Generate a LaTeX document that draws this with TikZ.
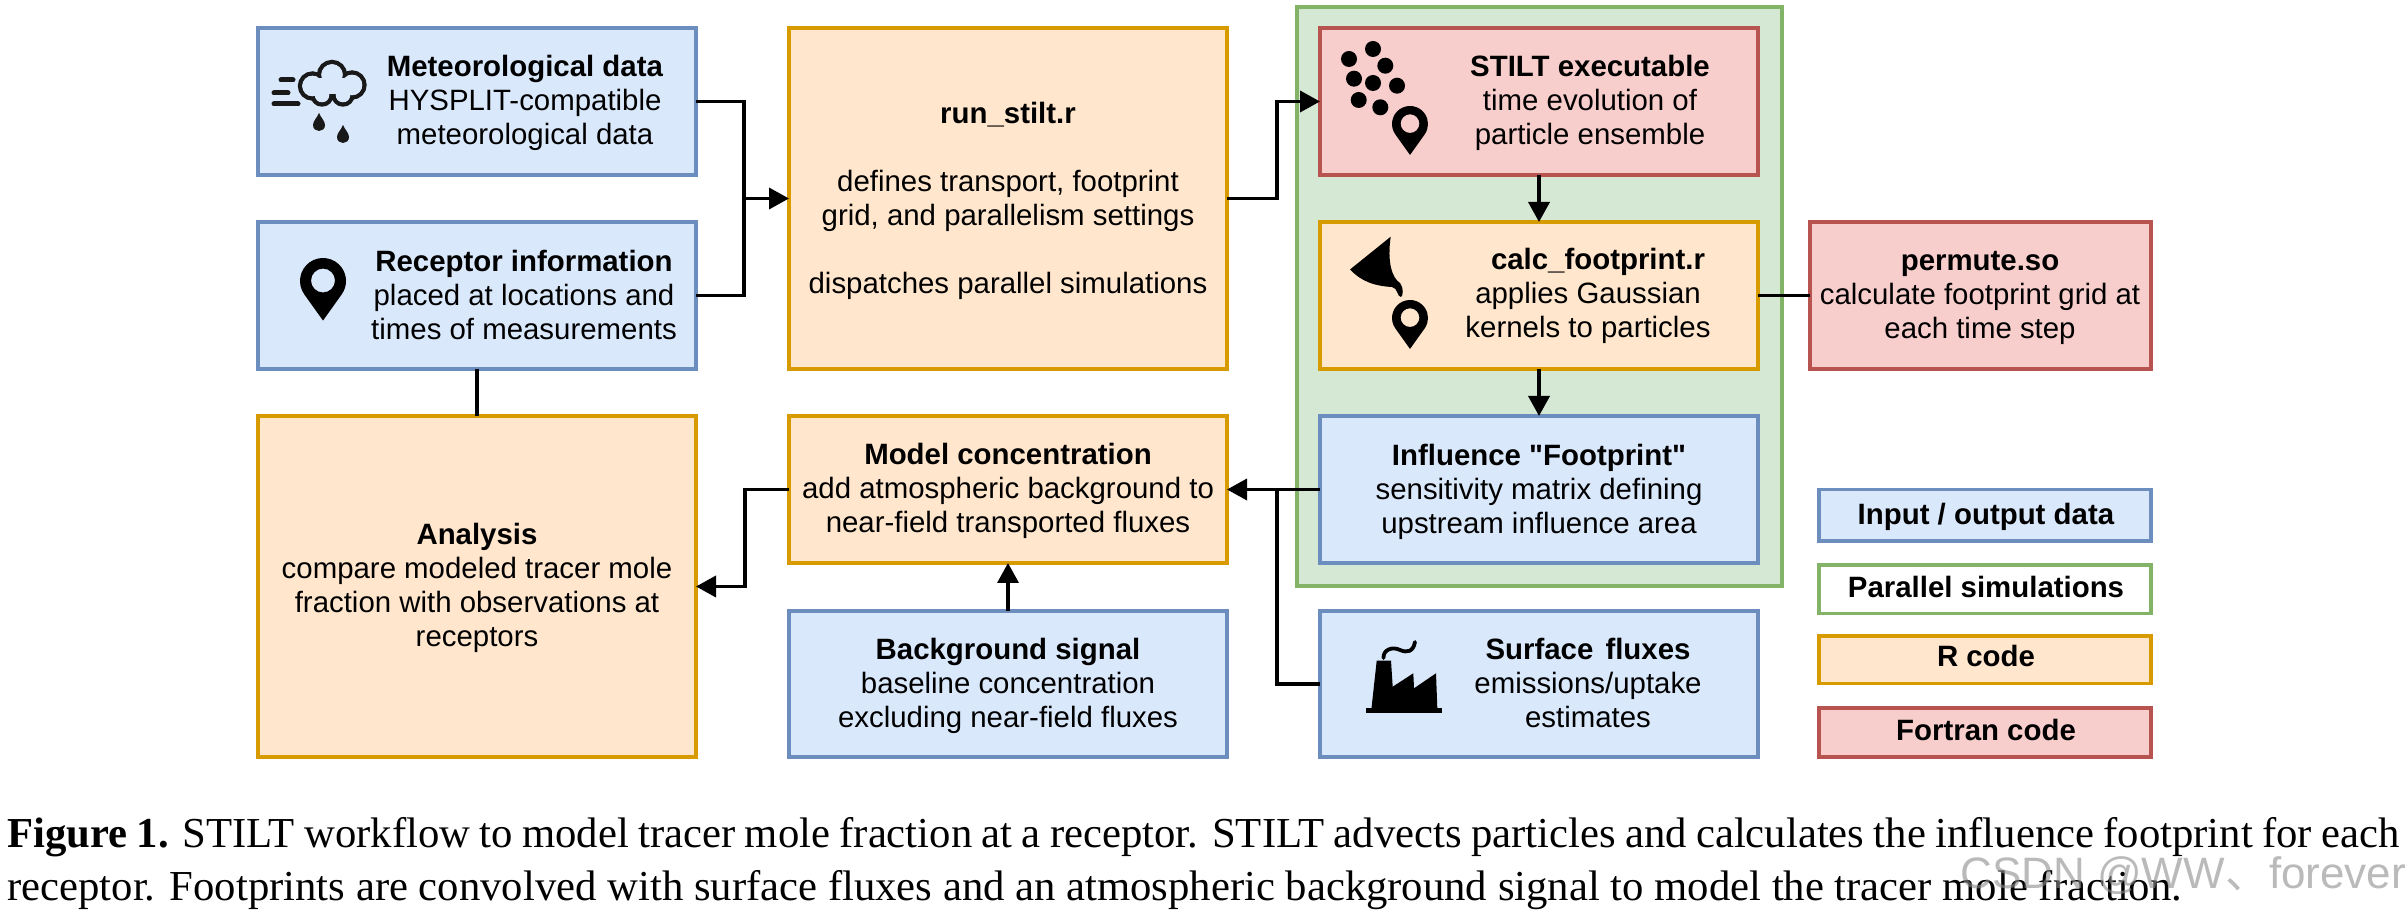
\documentclass[tikz,border=0pt]{standalone}
\usepackage{fontspec}
\setmainfont{Liberation Sans}[Ligatures=TeXOff]
\newfontfamily\capfont{Liberation Serif}
\newfontfamily\cjkfont{Noto Sans CJK SC}
\usetikzlibrary{arrows.meta}
\definecolor{bluef}{HTML}{DAE8FC}\definecolor{bluel}{HTML}{6C8EBF}
\definecolor{orf}{HTML}{FFE6CC}\definecolor{orl}{HTML}{D79B00}
\definecolor{grf}{HTML}{D5E8D4}\definecolor{grl}{HTML}{82B366}
\definecolor{redf}{HTML}{F8CECC}\definecolor{redl}{HTML}{B85450}
\tikzset{
  boxbase/.style={rectangle,draw,line width=1.75pt,inner sep=0pt,outer sep=0pt},
  bluebox/.style={boxbase,fill=bluef,draw=bluel},
  orbox/.style={boxbase,fill=orf,draw=orl},
  grbox/.style={boxbase,fill=grf,draw=grl},
  redbox/.style={boxbase,fill=redf,draw=redl},
  whitebox/.style={boxbase,fill=white,draw=grl},
  txt/.style={align=center,inner sep=0pt,font=\fontsize{14.7}{17}\selectfont},
  oneline/.style={txt,text height=10.5pt,text depth=3pt},
  conn/.style={line width=1.8pt,draw=black},
  arr/.style={conn,-{Triangle[length=10pt,width=10.5pt]}},
}
\newcommand\bxn[6]{\node[#2,minimum width={(#5-#3)*0.5pt},minimum height={(#6-#4)*0.5pt}] (#1) at ({(#3+#5)/2},{(#4+#6)/2}) {};}
\newcommand\pinicon[3]{\begin{scope}[shift={(#1,#2)},x=0.5pt,y=0.5pt,scale=#3]
  \fill[black,even odd rule] (0,-1.72) -- (215.6:1) arc[start angle=215.6,end angle=-35.6,radius=1] -- cycle (0,0.02) circle[radius=0.52];
\end{scope}}
\newcommand\dropicon[2]{\begin{scope}[shift={(#1,#2)}]
  \fill[black!90] (0,-9) .. controls (2,-4) and (6,-1) .. (6,3) .. controls (6,7) and (3,9) .. (0,9)
    .. controls (-3,9) and (-6,7) .. (-6,3) .. controls (-6,-1) and (-2,-4) .. (0,-9) -- cycle;
\end{scope}}
\begin{document}
\begin{tikzpicture}[x=0.5pt,y=-0.5pt]
\useasboundingbox (0,0) rectangle (2407,913);
% group
\bxn{group}{grbox}{1297}{7}{1782}{586}
% boxes
\bxn{met}{bluebox}{258}{28}{696}{175}
\bxn{rec}{bluebox}{258}{222}{696}{369}
\bxn{ana}{orbox}{258}{416}{696}{757}
\bxn{run}{orbox}{789}{28}{1227}{369}
\bxn{mod}{orbox}{789}{416}{1227}{563}
\bxn{bg}{bluebox}{789}{611}{1227}{757}
\bxn{exe}{redbox}{1320}{28}{1758}{175}
\bxn{calc}{orbox}{1320}{222}{1758}{369}
\bxn{inf}{bluebox}{1320}{416}{1758}{563}
\bxn{surf}{bluebox}{1320}{611}{1758}{757}
\bxn{perm}{redbox}{1810}{222}{2151}{369}
% legend
\bxn{la}{bluebox}{1819}{489.5}{2151}{541}
\bxn{lb}{whitebox}{1819}{565}{2151}{613.5}
\bxn{lc}{orbox}{1819}{636}{2151}{683.5}
\bxn{ld}{redbox}{1819}{708}{2151}{757}
% texts
\node[txt] (anaT) at (477,587.5) {\textbf{Analysis}\\compare modeled tracer mole\\fraction with observations at\\receptors};
\node[txt] (runT) at (1008,200.5) {\textbf{run\_stilt.r}\\[17pt]defines transport, footprint\\grid, and parallelism settings\\[17pt]dispatches parallel simulations};
\node[txt] (modT) at (1008,491) {\textbf{Model concentration}\\add atmospheric background to\\near-field transported fluxes};
\node[txt] (bgT) at (1008,685.5) {\textbf{Background signal}\\baseline concentration\\excluding near-field fluxes};
\node[txt] (infT) at (1539,492) {\textbf{Influence "Footprint"}\\sensitivity matrix defining\\upstream influence area};
\node[txt] (permT) at (1980,298) {\textbf{permute.so}\\calculate footprint grid at\\each time step};
\node[txt] (metT) at (525,103) {\textbf{Meteorological data}\\HYSPLIT-compatible\\meteorological data};
\node[txt] (recT) at (524,294.5) {\textbf{Receptor information}\\placed at locations and\\times of measurements};
\node[txt] (exeT) at (1590,103) {\textbf{STILT executable}\\time evolution of\\particle ensemble};
\node[txt] (calcT) at (1588,295.5) {\hspace*{10pt}\textbf{calc\_footprint.r}\\applies Gaussian\\kernels to particles};
\node[txt] (surfT) at (1588,683) {\textbf{Surface\hspace{2pt} fluxes}\\emissions/uptake\\estimates};
\node[oneline] (laT) at (1986,517.5) {\textbf{Input / output data}};
\node[oneline] (lbT) at (1986,589.5) {\textbf{Parallel simulations}};
\node[oneline] (lcT) at (1986,659.5) {\textbf{R code}};
\node[oneline] (ldT) at (1986,733) {\textbf{Fortran code}};
% connectors
\coordinate (j1) at (744,198.5);
\coordinate (j2) at (1277,101.5);
\coordinate (j3) at (1277,489.5);
\coordinate (j4) at (745,586.5);
\draw[conn] (met.east) -| (j1);
\draw[conn] (rec.east) -| (j1);
\draw[arr] (j1) -- (run.west);
\draw[arr] (run.east) -| (j2) -- (exe.west);
\draw[conn] (rec.south) -- (ana.north);
\draw[arr] (exe.south) -- (calc.north);
\draw[arr] (calc.south) -- (inf.north);
\draw[conn] (calc.east) -- (perm.west);
\draw[arr] (inf.west) -- (mod.east);
\draw[conn] (surf.west) -| (j3);
\draw[arr] (bg.north) -- (mod.south);
\draw[arr] (mod.west) -| (j4) -- (ana.east);
% cloud icon
\foreach \cx/\cy/\r in {312.5/86/12.5,332/75/13,352/85/12.5,322/95/9.5,343/95/9.5}
  \draw[black!90,line width=2.2pt] (\cx,\cy) circle[radius=\r*0.5pt];
\foreach \cx/\cy/\r in {312.5/86/12.5,332/75/13,352/85/12.5,322/95/9.5,343/95/9.5}
  \fill[bluef] (\cx,\cy) circle[radius=(\r-2.2)*0.5pt];
\fill[bluef] (318,78) rectangle (347,94);
\draw[black!90,line width=2.5pt,line cap=round] (281,80) -- (293,80) (274,93) -- (288,93) (274,104) -- (298,104);
\dropicon{319}{122}
\dropicon{343}{134}
% pins
\pinicon{323}{281}{23}
\pinicon{1410}{124}{18}
\pinicon{1410}{318}{18}
% particles
\foreach \px/\py in {1349/59,1373/49,1385.3/65.7,1354/78.7,1373/83,1397/85.7,1358.7/100,1380.3/107.3}
  \fill[black] (\px,\py) circle[radius=4pt];
% funnel
\fill[black] (1390.7,236.7) .. controls (1387,262) and (1392,278) .. (1400,283)
  .. controls (1404,288) and (1403,296) .. (1401,297) .. controls (1397,297) and (1398,288) .. (1392,287)
  .. controls (1375,286) and (1362,282) .. (1350,269.5) -- cycle;
% factory
\fill[black] (1366,707.7) rectangle (1441.7,712.7);
\fill[black] (1371.5,708) -- (1376.7,660.7) -- (1391,660.7) -- (1392.7,686.7) -- (1413.3,673.3) -- (1414,688.3) -- (1436,673.3) -- (1437.3,708) -- cycle;
\draw[black,line width=1.9pt,line cap=round] (1383.5,658) .. controls (1383,650) and (1392,646) .. (1400,650) .. controls (1407,653) and (1413,652) .. (1415,642);
% caption
\node[anchor=north west,inner sep=0pt,text width=1196pt,align=justify,font=\capfont\fontsize{21.35}{26.2}\selectfont] (cap) at (7,817.5)
 {\textbf{Figure 1.} STILT workflow to model tracer mole fraction at a receptor. STILT advects particles and calculates the influence footprint for each\linebreak receptor. Footprints are convolved with surface fluxes and an atmospheric background signal to model the tracer mole fraction.};
\node[anchor=base west,inner sep=0pt,text=black!45,opacity=0.6,font=\fontsize{22}{26}\selectfont] (wm) at (1960,888) {CSDN @WW{\cjkfont 、}forever};
\end{tikzpicture}
\end{document}
